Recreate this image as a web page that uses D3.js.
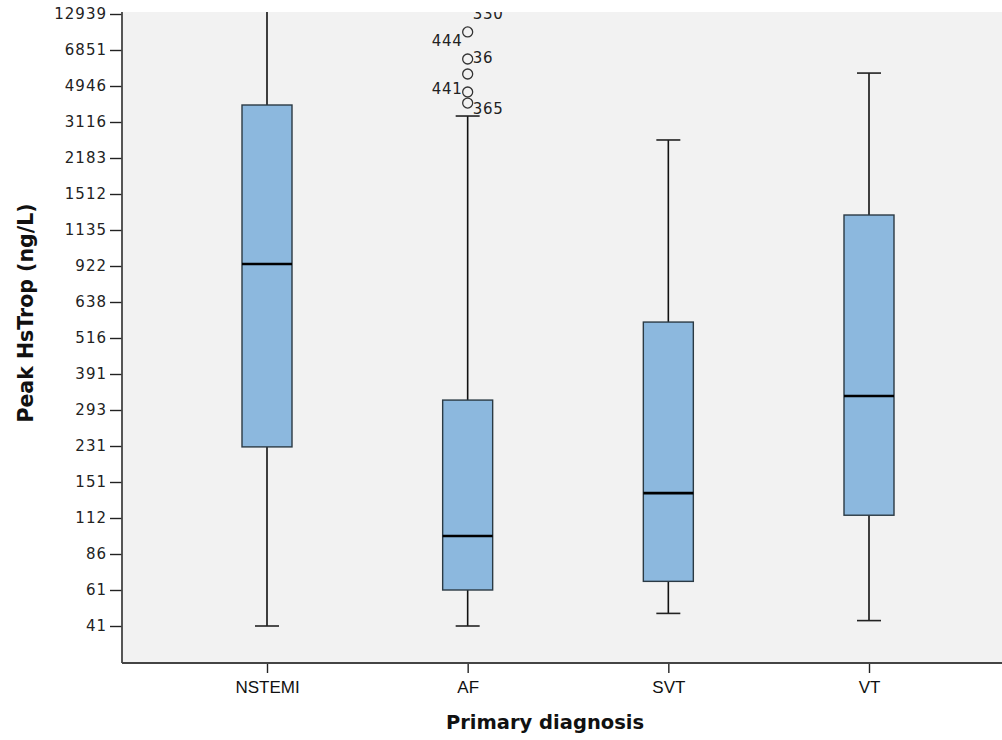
<!DOCTYPE html>
<html>
<head>
<meta charset="utf-8">
<script src="https://cdn.jsdelivr.net/npm/d3@7"></script>
<style>
  html, body { margin: 0; padding: 0; background: #ffffff; }
  svg { display: block; }
</style>
</head>
<body>
<svg id="chart" width="1002" height="740"></svg>
<script>
// Peak high-sensitivity troponin by primary diagnosis (box plots)
const categories = ["NSTEMI", "AF", "SVT", "VT"];

// Five-number summaries (ng/L)
const whiskerLow  = [41,    41,   48,   44];
const q1          = [229,   61,   67,   115];
const median      = [934,   99,   139,  331];
const q3          = [3980,  320,  570,  1292];
const whiskerHigh = [14500, 3420, 2650, 5630];

// Outliers for AF (value, case id)
const outlierCategory = ["AF", "AF", "AF", "AF", "AF", "AF"];
const outlierValues   = [14800, 9900, 6375, 5580, 4640, 4080];
const outlierIds      = ["330", "444", "36", "", "441", "365"];

// Tick labels on the rank-spaced troponin axis
const yTicks = [41, 61, 86, 112, 151, 231, 293, 391, 516, 638, 922, 1135, 1512, 2183, 3116, 4946, 6851, 12939];

const svg = d3.select("#chart");
const plot = { left: 122, right: 1002, top: 12, bottom: 663 };
const tickTop = 14, tickBottom = 626;

// Piecewise linear scale: each listed tick value is evenly spaced
const step = (tickBottom - tickTop) / (yTicks.length - 1);
const y = d3.scaleLinear()
  .domain(yTicks)
  .range(yTicks.map((d, i) => tickBottom - i * step));

const x = d3.scalePoint()
  .domain(categories)
  .range([267, 869]);

// Plot background
svg.append("rect")
  .attr("x", plot.left).attr("y", plot.top)
  .attr("width", plot.right - plot.left).attr("height", plot.bottom - plot.top)
  .attr("fill", "#f2f2f2");

svg.append("clipPath").attr("id", "plotClip")
  .append("rect")
  .attr("x", plot.left).attr("y", plot.top)
  .attr("width", plot.right - plot.left).attr("height", plot.bottom - plot.top);

const g = svg.append("g").attr("clip-path", "url(#plotClip)");

const boxWidth = 50, capWidth = 24;
const boxes = categories.map((c, i) => ({
  cat: c, lo: whiskerLow[i], q1: q1[i], med: median[i], q3: q3[i], hi: whiskerHigh[i]
}));

const bg = g.selectAll("g.box").data(boxes).join("g").attr("class", "box");

// Whiskers
bg.append("line")
  .attr("x1", d => x(d.cat)).attr("x2", d => x(d.cat))
  .attr("y1", d => y(d.lo)).attr("y2", d => y(d.q1))
  .attr("stroke", "#111").attr("stroke-width", 1.6);
bg.append("line")
  .attr("x1", d => x(d.cat)).attr("x2", d => x(d.cat))
  .attr("y1", d => y(d.q3)).attr("y2", d => y(d.hi))
  .attr("stroke", "#111").attr("stroke-width", 1.6);
// Whisker caps
bg.append("line")
  .attr("x1", d => x(d.cat) - capWidth / 2).attr("x2", d => x(d.cat) + capWidth / 2)
  .attr("y1", d => y(d.lo)).attr("y2", d => y(d.lo))
  .attr("stroke", "#222").attr("stroke-width", 1.6);
bg.append("line")
  .attr("x1", d => x(d.cat) - capWidth / 2).attr("x2", d => x(d.cat) + capWidth / 2)
  .attr("y1", d => y(d.hi)).attr("y2", d => y(d.hi))
  .attr("stroke", "#222").attr("stroke-width", 1.6);
// Interquartile box
bg.append("rect")
  .attr("x", d => x(d.cat) - boxWidth / 2)
  .attr("y", d => y(d.q3))
  .attr("width", boxWidth)
  .attr("height", d => y(d.q1) - y(d.q3))
  .attr("fill", "#8cb8de")
  .attr("stroke", "#2b3a44").attr("stroke-width", 1.4);
// Median
bg.append("line")
  .attr("x1", d => x(d.cat) - boxWidth / 2).attr("x2", d => x(d.cat) + boxWidth / 2)
  .attr("y1", d => y(d.med)).attr("y2", d => y(d.med))
  .attr("stroke", "#000").attr("stroke-width", 2.6);

// Outliers with case labels
const outliers = outlierValues.map((v, i) => ({ cat: outlierCategory[i], v, id: outlierIds[i] }));
// label placement per case id: side and vertical nudge
const labelPlacement = { "330": [1, 16], "444": [-1, 14], "36": [1, 4], "441": [-1, 2], "365": [1, 11] };

g.selectAll("circle.outlier").data(outliers).join("circle")
  .attr("class", "outlier")
  .attr("cx", d => x(d.cat)).attr("cy", d => y(d.v))
  .attr("r", 5)
  .attr("fill", "none").attr("stroke", "#333").attr("stroke-width", 1.3);

g.selectAll("text.olabel").data(outliers.filter(d => d.id)).join("text")
  .attr("class", "olabel")
  .attr("x", d => x(d.cat) + labelPlacement[d.id][0] * 5)
  .attr("y", d => y(d.v) + labelPlacement[d.id][1])
  .attr("text-anchor", d => labelPlacement[d.id][0] > 0 ? "start" : "end")
  .attr("font-family", "DejaVu Sans, sans-serif")
  .attr("font-size", 15)
  .attr("letter-spacing", 0.8)
  .attr("fill", "#222")
  .text(d => d.id);

// Y axis
const yAxis = svg.append("g")
  .attr("transform", `translate(${plot.left},0)`)
  .call(d3.axisLeft(y).tickValues(yTicks).tickFormat(d3.format("d")).tickSize(12).tickSizeOuter(0).tickPadding(3));
yAxis.select(".domain").remove();
yAxis.selectAll(".tick line").attr("stroke", "#222").attr("stroke-width", 1.4);
yAxis.selectAll(".tick text")
  .attr("font-family", "DejaVu Sans, sans-serif")
  .attr("font-size", 15)
  .attr("letter-spacing", 1)
  .attr("fill", "#222");

// X axis
const xAxis = svg.append("g")
  .attr("transform", `translate(0,${plot.bottom})`)
  .call(d3.axisBottom(x).tickSize(10).tickSizeOuter(0).tickPadding(8));
xAxis.select(".domain").remove();
xAxis.selectAll(".tick line").attr("stroke", "#222").attr("stroke-width", 1.4);
xAxis.selectAll(".tick text")
  .attr("font-family", "'Liberation Sans', sans-serif")
  .attr("font-size", 17)
  .attr("fill", "#111");

// Axis frame lines
svg.append("line")
  .attr("x1", plot.left).attr("x2", plot.left)
  .attr("y1", plot.top).attr("y2", plot.bottom)
  .attr("stroke", "#444").attr("stroke-width", 1.8);
svg.append("line")
  .attr("x1", plot.left).attr("x2", plot.right)
  .attr("y1", plot.bottom).attr("y2", plot.bottom)
  .attr("stroke", "#444").attr("stroke-width", 1.8);

// Axis titles
svg.append("text")
  .attr("transform", `translate(33,313) rotate(-90)`)
  .attr("text-anchor", "middle")
  .attr("font-family", "DejaVu Sans, sans-serif")
  .attr("font-weight", "bold")
  .attr("font-size", 20.5)
  .attr("fill", "#111")
  .text("Peak HsTrop (ng/L)");

svg.append("text")
  .attr("x", 545).attr("y", 729)
  .attr("text-anchor", "middle")
  .attr("font-family", "DejaVu Sans, sans-serif")
  .attr("font-weight", "bold")
  .attr("font-size", 19.5)
  .attr("fill", "#111")
  .text("Primary diagnosis");
</script>
</body>
</html>
